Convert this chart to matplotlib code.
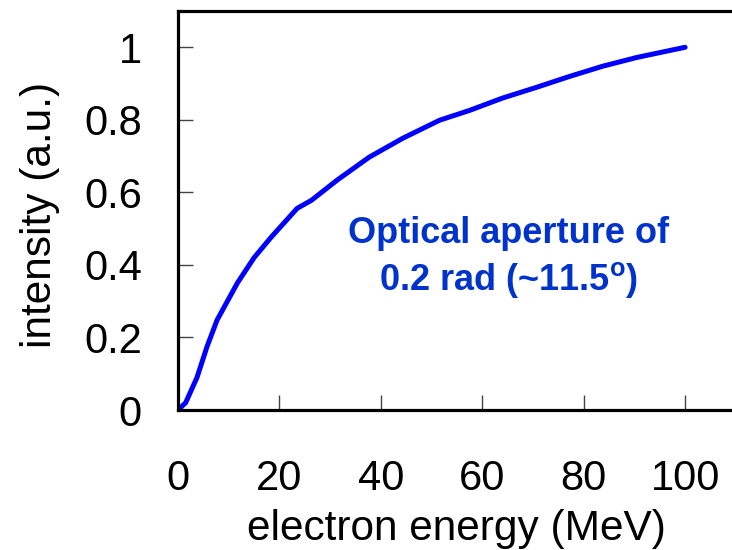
import numpy as np
import matplotlib.pyplot as plt

plt.rcParams['font.family'] = ['Liberation Sans', 'DejaVu Sans']

# values
energy = [0, 1.5, 3.75, 5.7, 7.7, 11.7, 15, 18.4, 23.5, 26.3, 31.4, 37.7,
          44.3, 51.6, 57.5, 64, 70.8, 77.3, 83.8, 90.5, 100]
intensity = [0, 0.02, 0.09, 0.174, 0.248, 0.35, 0.42, 0.477, 0.556, 0.578, 0.634,
             0.697, 0.749, 0.799, 0.826, 0.86, 0.89, 0.92, 0.948, 0.972, 1.0]
xticks = [0, 20, 40, 60, 80, 100]
yticks = [0, 0.2, 0.4, 0.6, 0.8, 1]
yticklabels = ['0', '0.2', '0.4', '0.6', '0.8', '1']

fig = plt.figure(figsize=(7.32, 5.5), dpi=100)
ax = fig.add_axes([0.2432, 0.2545, 0.762, 0.7255])

ax.plot(energy, intensity, color='#0000ff', lw=3.6, solid_capstyle='round')

ax.set_xlim(0, 110)
ax.set_ylim(0, 1.1)
ax.set_xticks(xticks)
ax.set_yticks(yticks)
ax.set_yticklabels(yticklabels)

for s in ax.spines.values():
    s.set_linewidth(2.3)
ax.tick_params(direction='in', length=11, width=1, color='#444444',
               labelsize=30)
ax.tick_params(axis='x', pad=35)
ax.tick_params(axis='y', pad=26)

ax.set_xlabel('electron energy (MeV)', fontsize=30.5, va='baseline')
ax.set_ylabel('intensity (a.u.)', fontsize=30.5)
ax.xaxis.set_label_coords(0.5, -0.326)
ax.yaxis.set_label_coords(-0.212, 0.49)

ax.text(65.2, 0.46, 'Optical aperture of', color='#0033cc', fontsize=26,
        fontweight='bold', ha='center', va='baseline')
ax.text(65.2, 0.331, '0.2 rad (~11.5$^{\\mathregular{o}}$)', color='#0033cc',
        fontsize=26, fontweight='bold', ha='center', va='baseline')

fig.savefig('out.png', dpi=100)
